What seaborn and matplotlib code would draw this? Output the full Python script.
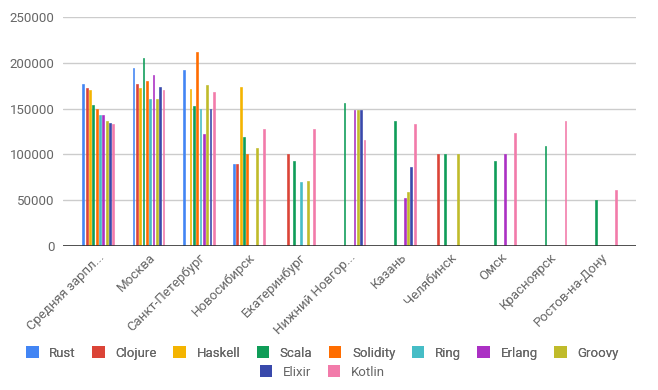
import numpy as np
import pandas as pd
import matplotlib
matplotlib.use('Agg')
import matplotlib.pyplot as plt
import seaborn as sns
from matplotlib.patches import Patch

nan = np.nan

# Города (подписи оси X)
cities = ['Средняя зарпл...', 'Москва', 'Санкт-Петербург', 'Новосибирск', 'Екатеринбург',
          'Нижний Новгор...', 'Казань', 'Челябинск', 'Омск', 'Красноярск', 'Ростов-на-Дону']

langs = ['Rust', 'Clojure', 'Haskell', 'Scala', 'Solidity', 'Ring', 'Erlang', 'Groovy', 'Elixir', 'Kotlin']
colors = ['#4285F4', '#DB4437', '#F4B400', '#0F9D58', '#FF6D00', '#46BDC6', '#AB30C4', '#C0BB2A', '#3949AB', '#F27BAA']

# Зарплаты по языкам (по городам)
rust     = [177000, 194000, 192000,  90000,    nan,    nan,    nan,    nan,    nan,    nan,   nan]
clojure  = [172000, 177000,    nan,  90000, 100000,    nan,    nan, 100000,    nan,    nan,   nan]
haskell  = [170000, 172000, 171000, 174000,    nan,    nan,    nan,    nan,    nan,    nan,   nan]
scala    = [154000, 205000, 153000, 119000,  93000, 156000, 136000, 100000,  93000, 109000, 50000]
solidity = [150000, 180000, 212000, 100000,    nan,    nan,    nan,    nan,    nan,    nan,   nan]
ring     = [143000, 160000, 150000,    nan,  70000,    nan,    nan,    nan,    nan,    nan,   nan]
erlang   = [143000, 187000, 122000,    nan,    nan, 149000,  52000,    nan, 100000,    nan,   nan]
groovy   = [137000, 160000, 176000, 107000,  71000, 149000,  59000, 100000,    nan,    nan,   nan]
elixir   = [134000, 174000, 150000,    nan,    nan, 149000,  86000,    nan,    nan,    nan,   nan]
kotlin   = [133000, 170000, 168000, 128000, 128000, 116000, 133000,    nan, 123000, 137000, 61000]

series = [rust, clojure, haskell, scala, solidity, ring, erlang, groovy, elixir, kotlin]

rows = []
for lang, vals in zip(langs, series):
    for city, v in zip(cities, vals):
        rows.append({'city': city, 'lang': lang, 'salary': v})
df = pd.DataFrame(rows)

sns.set_style('white')
plt.rcParams['font.family'] = ['Roboto', 'DejaVu Sans']

fig = plt.figure(figsize=(6.58, 3.9), dpi=100)
ax = fig.add_axes([63 / 658, 1 - 246 / 390, (636 - 63) / 658, (246 - 17) / 390])

sns.barplot(data=df, x='city', y='salary', hue='lang', order=cities, hue_order=langs,
            palette=colors, width=0.663, gap=0.45, errorbar=None, legend=False,
            saturation=1, ax=ax)

# толщина тонких столбиков
for p in ax.patches:
    p.set_edgecolor(p.get_facecolor())
    p.set_linewidth(0.45)

ax.set_ylim(0, 250000)
ax.set_xlim(-0.703, 10.703)
ax.set_yticks(range(0, 250001, 50000))
ax.yaxis.grid(True, color='#cccccc', linewidth=1)
ax.set_axisbelow(True)
ax.axhline(0, color='#333333', linewidth=1.2, zorder=5)
for s in ax.spines.values():
    s.set_visible(False)
ax.set_xlabel('')
ax.set_ylabel('')
ax.tick_params(axis='both', length=0, colors='#666666', labelsize=9.5)
ax.tick_params(axis='y', pad=6)
ax.set_xticks(range(len(cities)))
ax.set_xticklabels(cities, rotation=45, ha='right', rotation_mode='anchor')

handles = [Patch(facecolor=c, edgecolor='none') for c in colors]
leg_kw = dict(loc='center', frameon=False, fontsize=9.5, handlelength=0.95, handleheight=0.95,
              columnspacing=1.25, handletextpad=0.8, labelcolor='#666666')
leg1 = fig.legend(handles[:8], langs[:8], bbox_to_anchor=(0.49, 1 - 353 / 390), ncol=8, **leg_kw)
fig.add_artist(leg1)
fig.legend(handles[8:], langs[8:], bbox_to_anchor=(0.49, 1 - 372 / 390), ncol=2, **leg_kw)

fig.savefig('out.png', dpi=100)
